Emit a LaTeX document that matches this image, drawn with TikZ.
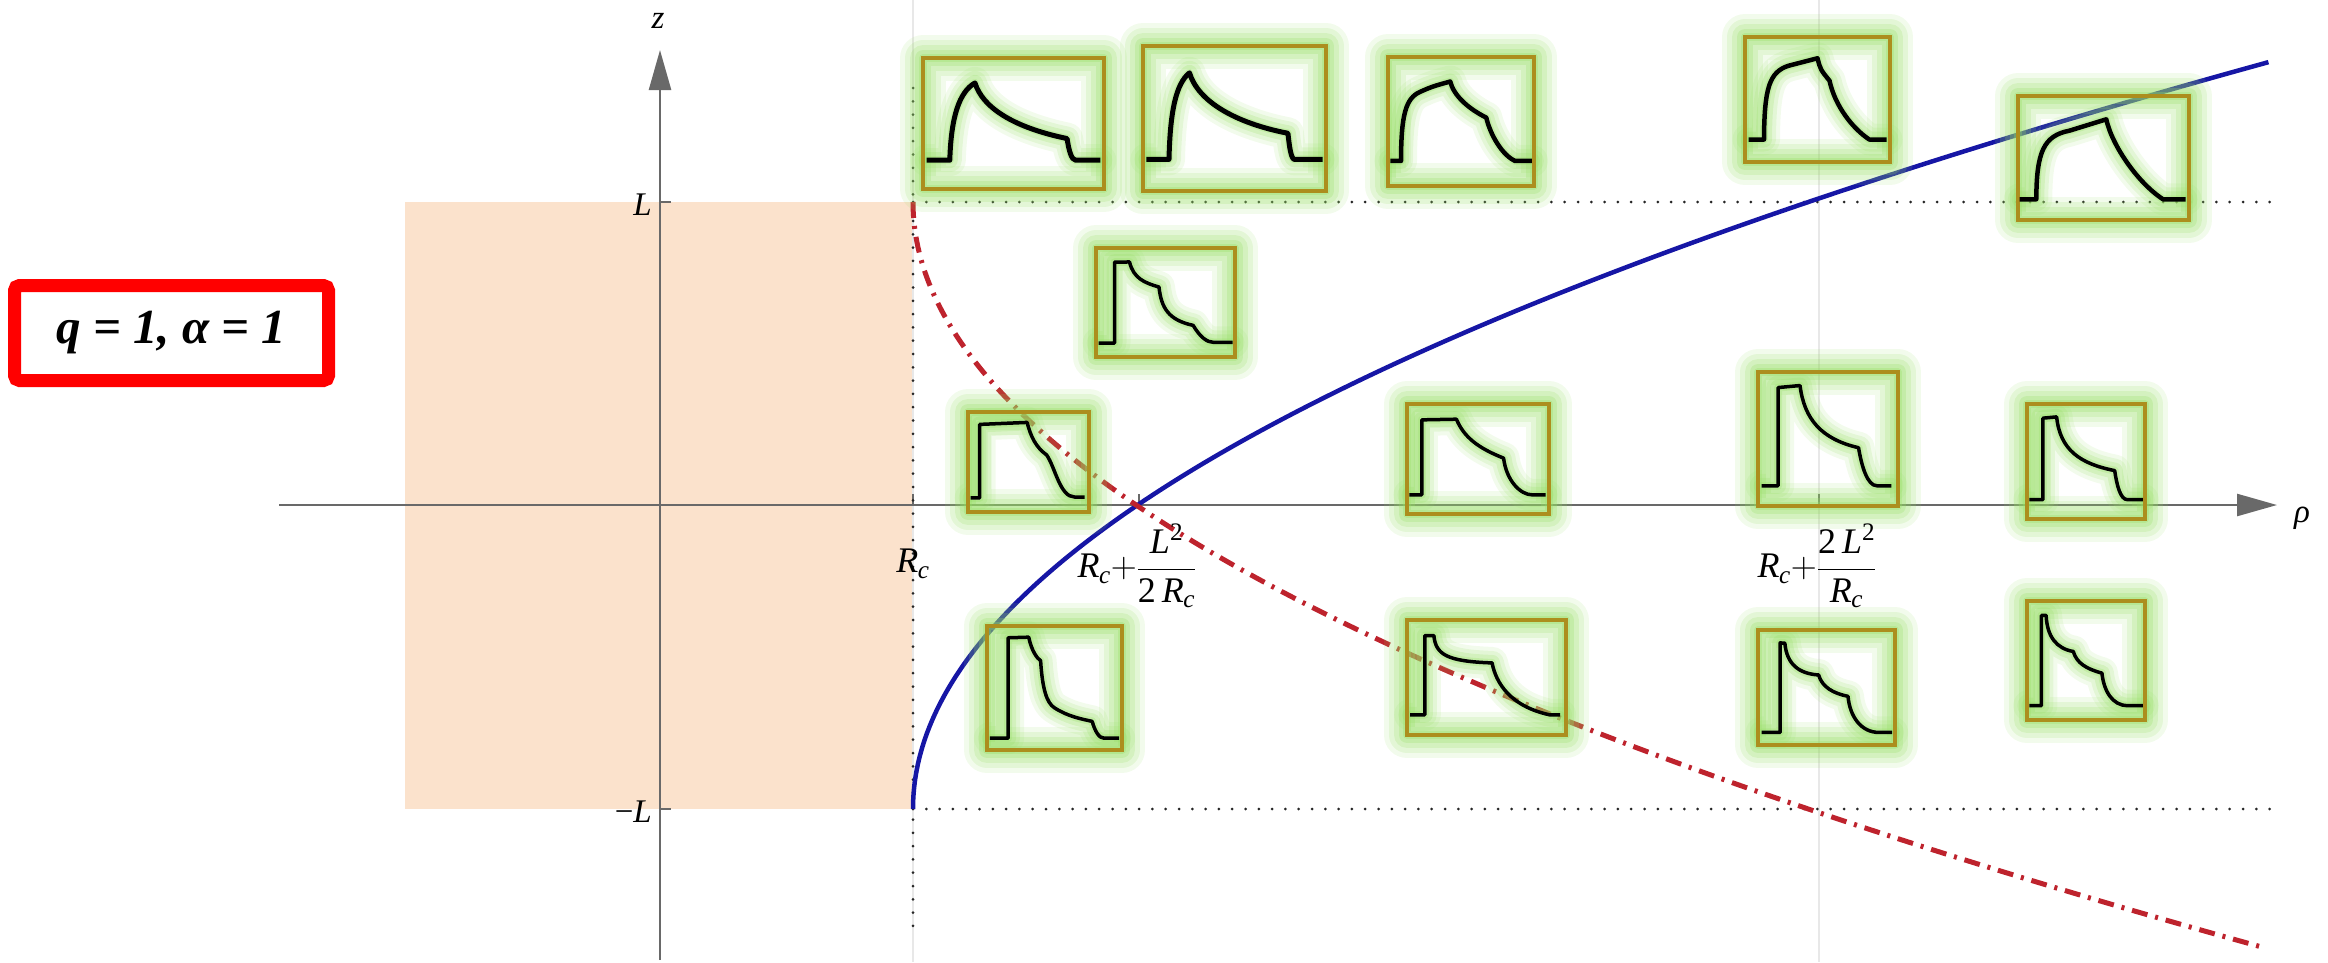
\RequirePackage{fix-cm}
\documentclass[tikz,border=0pt]{standalone}
\usepackage{fontspec}
\setmainfont{Liberation Serif}
\usetikzlibrary{arrows.meta}
\definecolor{shadec}{RGB}{251,226,204}
\definecolor{axisc}{RGB}{105,105,105}
\definecolor{gridc}{RGB}{232,232,232}
\definecolor{bluec}{RGB}{22,22,165}
\definecolor{redc}{RGB}{190,35,45}
\definecolor{glowc}{RGB}{150,222,100}
\definecolor{framec}{RGB}{172,142,30}
\newcommand\Rc{\textit{R}\kern-0.5pt\textsubscript{\textit{c}}}
\newcommand\pulsebox[6]{%
  \pgfmathsetmacro\iw{#3-#1}\pgfmathsetmacro\ih{#4-#2}%
  \begin{scope}[shift={(#1,#4)}, x=\iw pt, y=\ih pt]
    \foreach \gw/\go in {46/0.12,36/0.16,26/0.2,16/0.25,8/0.3}{\draw[glowc, line width=\gw pt, opacity=\go, line join=round] (0,0) rectangle (1,1);}
    \foreach \gw/\go in {32/0.12,24/0.16,16/0.22,8/0.28}{\draw[glowc, line width=\gw pt, opacity=\go, line join=round, line cap=round] #5;}
    \draw[framec, line width=4pt] (0,0) rectangle (1,1);
    \draw[black, line width=#6pt, line join=round] #5;
  \end{scope}}
\tikzset{
  axisline/.style={axisc, line width=2.5pt},
  tickline/.style={axisc, line width=2pt},
  gridline/.style={gridc, line width=1.5pt},
  dotline/.style={black!85, line width=3pt, dash pattern=on 0pt off 13.3pt, line cap=round},
  lbl/.style={inner sep=0pt, font=\fontsize{36}{42}\selectfont},
  smalllbl/.style={inner sep=0pt, font=\fontsize{33}{38}\selectfont},
}
\begin{document}
\begin{tikzpicture}[x=1pt,y=-1pt]
\useasboundingbox (0,0) rectangle (2328,962);
% shaded region
\fill[shadec] (405,202) rectangle (913,809);
% grid lines
\draw[gridline] (913,0) -- (913,962);
\draw[gridline] (1819,0) -- (1819,962);
% axes
\coordinate (xs) at (279,505);
\coordinate (xe) at (2277,505);
\coordinate (zs) at (660,960);
\coordinate (ze) at (660,50);
\draw[axisline, -{Triangle[length=40pt,width=22pt]}] (xs) -- (xe);
\draw[axisline, -{Triangle[length=40pt,width=22pt]}] (zs) -- (ze);
% ticks
\draw[tickline] (660,202) -- (671,202);
\draw[tickline] (660,809) -- (671,809);
\draw[tickline] (913,505) -- (913,494);
\draw[tickline] (1139,505) -- (1139,494);
\draw[tickline] (1819,505) -- (1819,494);
% dotted lines
\coordinate (d1a) at (913,88);
\coordinate (d1b) at (913,935);
\coordinate (d2a) at (913,202);
\coordinate (d2b) at (2279,202);
\coordinate (d3a) at (913,809);
\coordinate (d3b) at (2279,809);
\draw[dotline] (d1a) -- (d1b);
\draw[dotline] (d2a) -- (d2b);
\draw[dotline] (d3a) -- (d3b);
% curves
\draw[bluec, line width=4.5pt] plot[domain=0:7.47, samples=100, smooth] ({913+24.3*\x*\x},{809-100*\x});
\draw[redc, line width=5pt, dash pattern=on 16pt off 8pt on 3pt off 8pt] plot[domain=0:7.45, samples=100, smooth] ({913+24.3*\x*\x},{202+100*\x});
% insets
\pulsebox{923}{58}{1104}{189}{(0.02,0.22) -- (0.148,0.22) .. controls (0.155,0.55) and (0.2,0.74) .. (0.287,0.81) .. controls (0.33,0.62) and (0.5,0.47) .. (0.796,0.385) .. controls (0.805,0.3) and (0.82,0.22) .. (0.843,0.22) -- (0.98,0.22)}{5}
\pulsebox{1143}{46}{1326}{191}{(0.018,0.218) -- (0.142,0.218) .. controls (0.148,0.55) and (0.18,0.74) .. (0.254,0.815) .. controls (0.3,0.62) and (0.5,0.47) .. (0.792,0.398) .. controls (0.8,0.3) and (0.81,0.218) .. (0.828,0.218) -- (0.982,0.218)}{5}
\pulsebox{1388}{57}{1534}{186}{(0.016,0.194) -- (0.089,0.194) .. controls (0.09,0.55) and (0.12,0.68) .. (0.22,0.73) .. controls (0.3,0.77) .. (0.426,0.81) .. controls (0.45,0.7) and (0.55,0.6) .. (0.673,0.53) .. controls (0.7,0.4) and (0.78,0.24) .. (0.871,0.194) -- (0.986,0.194)}{4.5}
\pulsebox{1745}{37}{1890}{162}{(0.024,0.18) -- (0.131,0.18) .. controls (0.133,0.6) and (0.17,0.72) .. (0.3,0.77) -- (0.5,0.83) .. controls (0.52,0.74) .. (0.583,0.65) .. controls (0.62,0.45) and (0.74,0.27) .. (0.857,0.18) -- (0.976,0.18)}{4.5}
\pulsebox{2018}{96}{2189}{220}{(0.01,0.167) -- (0.107,0.167) .. controls (0.108,0.55) and (0.15,0.68) .. (0.3,0.72) -- (0.516,0.812) .. controls (0.55,0.6) and (0.7,0.3) .. (0.848,0.167) -- (0.98,0.167)}{4.5}
\pulsebox{1096}{248}{1235}{357}{(0.019,0.128) -- (0.133,0.128) -- (0.133,0.87) -- (0.241,0.872) .. controls (0.27,0.72) and (0.35,0.68) .. (0.453,0.642) .. controls (0.47,0.45) and (0.52,0.34) .. (0.699,0.29) .. controls (0.75,0.18) and (0.8,0.135) .. (0.843,0.135) -- (0.982,0.135)}{3.5}
\pulsebox{968}{412}{1089}{512}{(0.022,0.141) -- (0.096,0.141) -- (0.096,0.876) -- (0.488,0.896) .. controls (0.52,0.75) and (0.56,0.65) .. (0.65,0.57) .. controls (0.72,0.45) and (0.76,0.15) .. (0.88,0.15) -- (0.964,0.15)}{3.5}
\pulsebox{1407}{404}{1549}{514}{(0.017,0.174) -- (0.104,0.174) -- (0.104,0.856) -- (0.348,0.862) .. controls (0.4,0.7) and (0.5,0.6) .. (0.68,0.508) .. controls (0.7,0.3) and (0.8,0.174) .. (0.882,0.174) -- (0.976,0.174)}{3.5}
\pulsebox{1758}{372}{1898}{506}{(0.026,0.151) -- (0.144,0.151) -- (0.144,0.884) -- (0.30,0.899) .. controls (0.33,0.65) and (0.45,0.5) .. (0.718,0.435) .. controls (0.74,0.3) and (0.78,0.151) .. (0.849,0.151) -- (0.953,0.151)}{3.5}
\pulsebox{2027}{404}{2145}{519}{(0.019,0.168) -- (0.135,0.168) -- (0.135,0.877) -- (0.251,0.888) .. controls (0.28,0.6) and (0.45,0.48) .. (0.743,0.421) .. controls (0.76,0.3) and (0.79,0.168) .. (0.851,0.168) -- (0.981,0.168)}{3.5}
\pulsebox{987}{626}{1122}{750}{(0.021,0.095) -- (0.156,0.095) -- (0.156,0.905) -- (0.309,0.91) .. controls (0.33,0.8) and (0.37,0.74) .. (0.397,0.72) .. controls (0.41,0.5) and (0.44,0.38) .. (0.5,0.34) .. controls (0.6,0.27) and (0.7,0.25) .. (0.779,0.231) .. controls (0.8,0.15) and (0.83,0.095) .. (0.868,0.095) -- (0.979,0.095)}{3.5}
\pulsebox{1407}{620}{1566}{735}{(0.02,0.176) -- (0.112,0.176) -- (0.112,0.865) -- (0.169,0.865) .. controls (0.18,0.7) and (0.25,0.64) .. (0.535,0.627) .. controls (0.56,0.45) and (0.65,0.25) .. (0.896,0.176) -- (0.963,0.176)}{3.5}
\pulsebox{1758}{630}{1895}{745}{(0.027,0.109) -- (0.161,0.109) -- (0.161,0.888) -- (0.196,0.885) .. controls (0.21,0.7) and (0.3,0.62) .. (0.442,0.609) .. controls (0.47,0.5) and (0.55,0.45) .. (0.657,0.423) .. controls (0.67,0.25) and (0.75,0.109) .. (0.885,0.109) -- (0.979,0.109)}{3.5}
\pulsebox{2027}{601}{2145}{720}{(0.019,0.121) -- (0.122,0.121) -- (0.122,0.879) -- (0.162,0.879) .. controls (0.17,0.7) and (0.25,0.6) .. (0.392,0.576) .. controls (0.42,0.48) and (0.5,0.43) .. (0.635,0.394) .. controls (0.65,0.25) and (0.72,0.121) .. (0.851,0.121) -- (0.981,0.121)}{3.5}
% labels
\node[smalllbl] (zl) at (658,21) {\textit{z}};
\node[smalllbl] (rl) at (2302,518) {\textit{ρ}};
\node[smalllbl, anchor=east] (lp) at (652,205) {\textit{L}};
\node[smalllbl, anchor=east] (lm) at (652,812) {−\textit{L}};
\node[lbl] (rc) at (913,564) {\Rc};
\node[lbl] (f1) at (1137,566) {$\displaystyle\mbox{\Rc}{+}\frac{\mbox{\textit{L}\textsuperscript{2}}}{\mbox{2\,\Rc}}$};
\node[lbl] (f2) at (1817,566) {$\displaystyle\mbox{\Rc}{+}\frac{\mbox{2\,\textit{L}\textsuperscript{2}}}{\mbox{\Rc}}$};
% parameter box
\node[draw=red, line width=13pt, rounded corners=5pt, minimum width=314pt, minimum height=95pt, inner sep=0pt, font=\bfseries\itshape\fontsize{49}{58}\selectfont] (qa) at (171.5,333) {q = 1, α = 1};
\end{tikzpicture}
\end{document}
